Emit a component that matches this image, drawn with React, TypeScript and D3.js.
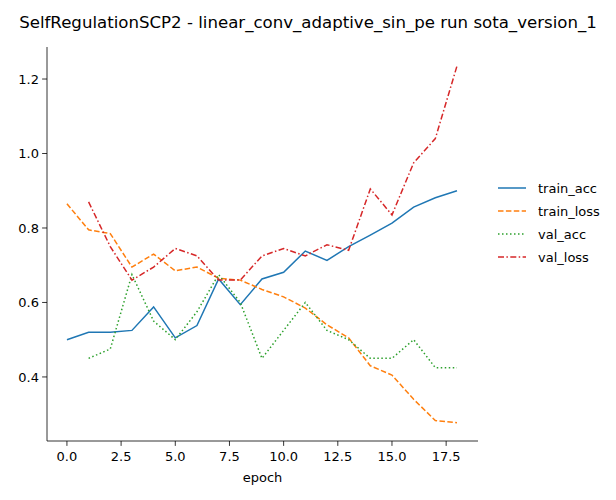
import React from 'react';
import * as d3 from 'd3';

const epochs = d3.range(0, 19);
const trainAcc = [0.50, 0.52, 0.52, 0.525, 0.588, 0.505, 0.538, 0.663, 0.594, 0.663, 0.681, 0.738, 0.713, 0.75, 0.781, 0.813, 0.856, 0.881, 0.90];
const trainLoss = [0.865, 0.795, 0.785, 0.695, 0.73, 0.685, 0.695, 0.665, 0.66, 0.635, 0.615, 0.585, 0.54, 0.505, 0.43, 0.405, 0.34, 0.283, 0.277];
const valAcc = [null, 0.45, 0.475, 0.675, 0.55, 0.50, 0.575, 0.675, 0.60, 0.45, 0.525, 0.60, 0.525, 0.50, 0.45, 0.45, 0.50, 0.425, 0.425];
const valLoss = [null, 0.87, 0.75, 0.66, 0.695, 0.745, 0.725, 0.66, 0.66, 0.725, 0.745, 0.725, 0.755, 0.74, 0.905, 0.835, 0.975, 1.04, 1.235];

const series = [
  { name: 'train_acc', values: trainAcc, color: '#1f77b4', dash: '' },
  { name: 'train_loss', values: trainLoss, color: '#ff7f0e', dash: '5.5,2.4' },
  { name: 'val_acc', values: valAcc, color: '#2ca02c', dash: '1.5,2.5' },
  { name: 'val_loss', values: valLoss, color: '#d62728', dash: '6,2.4,1.5,2.4' },
];
const xTicks = [0, 2.5, 5, 7.5, 10, 12.5, 15, 17.5];
const yTicks = [0.4, 0.6, 0.8, 1.0, 1.2];

const left = 47, right = 478, top = 47, bottom = 441;

export default function App() {
  const x = d3.scaleLinear().domain([-0.92, 18.97]).range([left, right]);
  const y = d3.scaleLinear().domain([0.228, 1.286]).range([bottom, top]);
  const line = d3.line<number | null>()
    .defined(d => d != null)
    .x((_, i) => x(epochs[i]))
    .y(d => y(d as number));
  const font = 'DejaVu Sans, sans-serif';
  return (
    <svg width={616} height={500} style={{ position: 'absolute', left: 0, top: 0, fontFamily: font }}>
      <rect width={616} height={500} fill="#fff" />
      <text x={308} y={28} textAnchor="middle" fontSize={16.6}>
        SelfRegulationSCP2 - linear_conv_adaptive_sin_pe run sota_version_1
      </text>
      {series.map(s => (
        <path key={s.name} d={line(s.values) || ''} fill="none" stroke={s.color}
          strokeWidth={1.5} strokeDasharray={s.dash} />
      ))}
      <line x1={left} x2={left} y1={top} y2={bottom} stroke="#000" strokeWidth={0.8} />
      <line x1={left} x2={right} y1={bottom} y2={bottom} stroke="#000" strokeWidth={0.8} />
      {xTicks.map(t => (
        <g key={t} transform={`translate(${x(t)},${bottom})`}>
          <line y2={4.9} stroke="#000" strokeWidth={0.8} />
          <text y={20} textAnchor="middle" fontSize={13}>{t.toFixed(1)}</text>
        </g>
      ))}
      {yTicks.map(t => (
        <g key={t} transform={`translate(${left},${y(t)})`}>
          <line x2={-4.9} stroke="#000" strokeWidth={0.8} />
          <text x={-8} dy="0.35em" textAnchor="end" fontSize={13}>{t.toFixed(1)}</text>
        </g>
      ))}
      <text x={(left + right) / 2} y={482} textAnchor="middle" fontSize={13}>epoch</text>
      {series.map((s, i) => (
        <g key={s.name} transform={`translate(498,${188 + i * 23})`}>
          <line x2={28} stroke={s.color} strokeWidth={1.5} strokeDasharray={s.dash} />
          <text x={40} dy="0.35em" fontSize={13}>{s.name}</text>
        </g>
      ))}
    </svg>
  );
}
